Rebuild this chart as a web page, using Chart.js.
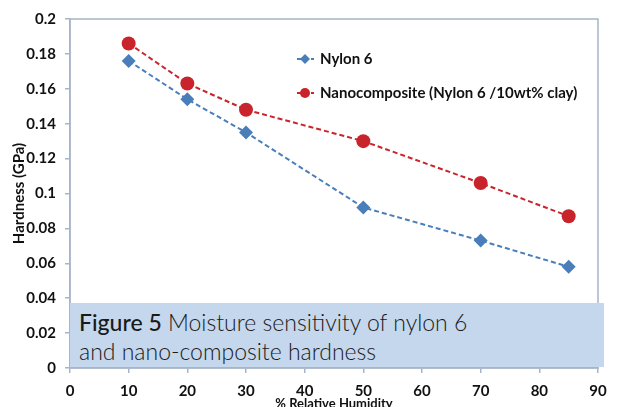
<!DOCTYPE html>
<html>
<head>
<meta charset="utf-8">
<script src="https://cdn.jsdelivr.net/npm/chart.js@4/dist/chart.umd.min.js"></script>
<style>
	html, body { margin: 0; padding: 0; background: #fff; }
	#wrap { position: relative; width: 622px; height: 407px; overflow: hidden; }
	#caption {
		position: absolute; left: 70px; top: 303px; width: 534px; height: 64px;
		background: #c5d7ec; box-sizing: border-box; padding: 5px 0 0 9px;
		font-family: 'Lato', sans-serif; font-size: 23px; line-height: 29px; color: #1a1a1a;
		font-weight: 300;
	}
	#caption b { font-weight: 500; }
</style>
</head>
<body>
<div id="wrap">
	<canvas id="hardChart" width="622" height="407"></canvas>
	<div id="caption"><b>Figure 5</b> Moisture sensitivity of nylon 6<br>and nano-composite hardness</div>
</div>
<script>
const humidity = [10, 20, 30, 50, 70, 85];
const nylon6 = [0.176, 0.154, 0.135, 0.092, 0.073, 0.058];
const nanocomposite = [0.186, 0.163, 0.148, 0.130, 0.106, 0.087];
const seriesNames = ['Nylon 6', 'Nanocomposite (Nylon 6 /10wt% clay)'];
const yTickLabels = ['0', '0.02', '0.04', '0.06', '0.08', '0.1', '0.12', '0.14', '0.16', '0.18', '0.2'];
const xTickLabels = ['0', '10', '20', '30', '40', '50', '60', '70', '80', '90'];

const blue = '#4a7ebb';
const red = '#c9242b';
const axisColor = '#a7b5c9';

// frame around the plot + legend in the upper middle
const framePlugin = {
	id: 'frame',
	afterDraw(chart) {
		const { ctx, chartArea: a } = chart;
		ctx.save();
		ctx.strokeStyle = axisColor;
		ctx.lineWidth = 1.5;
		ctx.strokeRect(a.left, a.top, a.right - a.left, a.bottom - a.top);

		const lx = 297, ly = [59, 93];
		chart.data.datasets.forEach((ds, i) => {
			const y = ly[i];
			ctx.strokeStyle = ds.borderColor;
			ctx.lineWidth = 2;
			ctx.setLineDash([4, 3]);
			ctx.beginPath();
			ctx.moveTo(lx, y);
			ctx.lineTo(lx + 17, y);
			ctx.stroke();
			ctx.setLineDash([]);
			ctx.fillStyle = ds.borderColor;
			ctx.beginPath();
			if (i === 0) {
				ctx.moveTo(lx + 8, y - 5);
				ctx.lineTo(lx + 13, y);
				ctx.lineTo(lx + 8, y + 5);
				ctx.lineTo(lx + 3, y);
			} else {
				ctx.arc(lx + 8, y, 5, 0, Math.PI * 2);
			}
			ctx.fill();
			ctx.fillStyle = '#111';
			ctx.font = 'bold 15px Lato';
			ctx.textBaseline = 'middle';
			ctx.fillText(seriesNames[i], lx + 23, y);
		});
		ctx.restore();
	}
};

new Chart(document.getElementById('hardChart'), {
	type: 'line',
	data: {
		datasets: [{
			label: seriesNames[0],
			data: humidity.map((h, i) => ({ x: h, y: nylon6[i] })),
			borderColor: blue,
			backgroundColor: blue,
			borderWidth: 2,
			borderDash: [5, 3],
			pointStyle: 'rectRot',
			pointRadius: 7,
			pointBackgroundColor: blue,
			pointBorderWidth: 0,
			tension: 0
		}, {
			label: seriesNames[1],
			data: humidity.map((h, i) => ({ x: h, y: nanocomposite[i] })),
			borderColor: red,
			backgroundColor: red,
			borderWidth: 2,
			borderDash: [5, 3],
			pointStyle: 'circle',
			pointRadius: 7,
			pointBackgroundColor: red,
			pointBorderWidth: 0,
			tension: 0
		}]
	},
	options: {
		responsive: false,
		animation: false,
		layout: { padding: { left: 0, top: 19, right: 24, bottom: 0 } },
		plugins: {
			legend: { display: false },
			tooltip: { enabled: false }
		},
		scales: {
			x: {
				type: 'linear',
				min: 0,
				max: 90,
				afterFit: (s) => { s.height = 39; },
				ticks: {
					stepSize: 10,
					padding: 9,
					color: '#111',
					font: { family: 'Lato', weight: 'bold', size: 15 },
					callback: (v) => xTickLabels[Math.round(v / 10)]
				},
				grid: { drawOnChartArea: false, drawTicks: true, tickLength: 5, color: axisColor, lineWidth: 1.5 },
				border: { color: axisColor, width: 1.5 },
				title: {
					display: true,
					text: '% Relative Humidity',
					color: '#111',
					padding: { top: 0, bottom: -5 },
					font: { family: 'Lato', weight: 'bold', size: 13 }
				}
			},
			y: {
				min: 0,
				max: 0.2,
				afterFit: (s) => { s.width = 70; },
				ticks: {
					stepSize: 0.02,
					padding: 9,
					color: '#111',
					font: { family: 'Lato', weight: 'bold', size: 15 },
					callback: (v) => yTickLabels[Math.round(v / 0.02)]
				},
				grid: { drawOnChartArea: false, drawTicks: true, tickLength: 5, color: axisColor, lineWidth: 1.5 },
				border: { color: axisColor, width: 1.5 },
				title: {
					display: true,
					text: 'Hardness (GPa)',
					color: '#111',
					padding: { top: 10, bottom: 0 },
					font: { family: 'Lato', weight: 'bold', size: 15 }
				}
			}
		}
	},
	plugins: [framePlugin]
});
</script>
</body>
</html>
